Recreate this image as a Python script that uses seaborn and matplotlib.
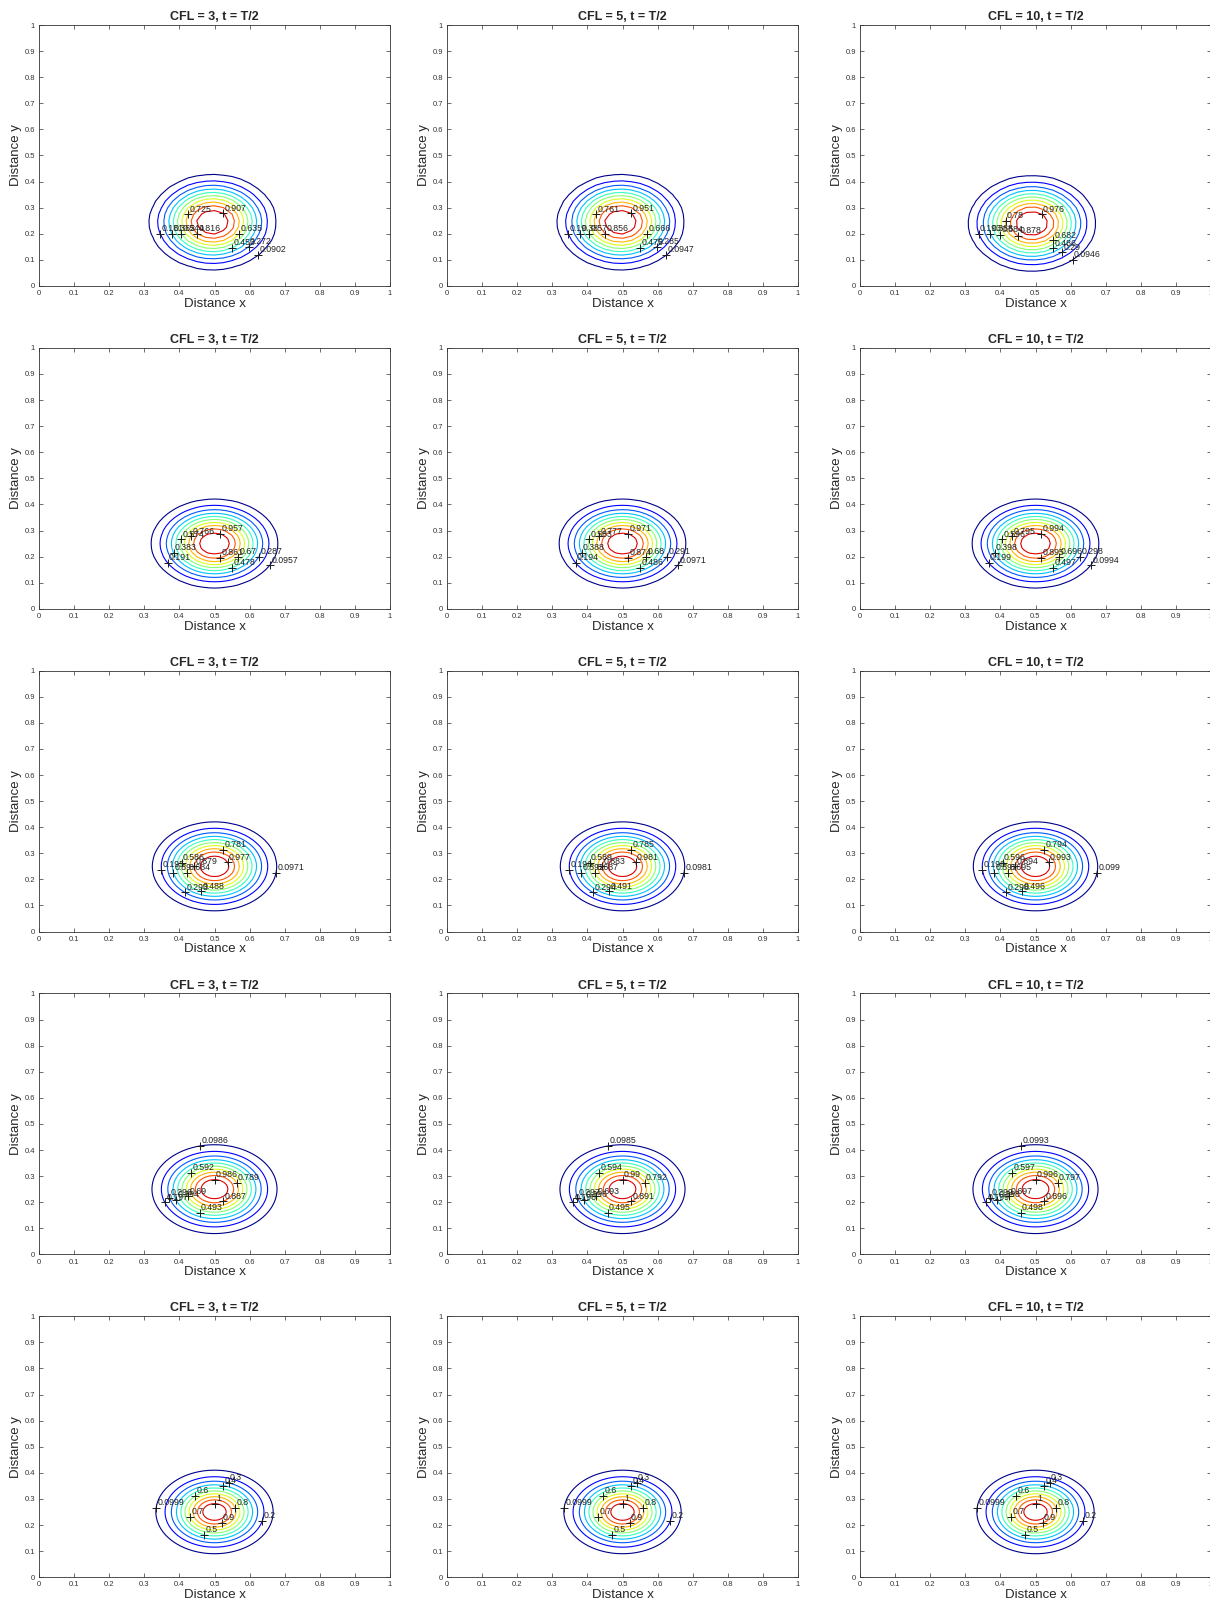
import numpy as np
import seaborn as sns
import matplotlib
import matplotlib.pyplot as plt

# Panel layout: rows are runs, columns are CFL numbers
cfl_values = [3, 5, 10]
title_time = "T/2"

# first and last contour level (10 levels per panel)
level_first = [
    [0.0902, 0.0947, 0.0946],
    [0.0957, 0.0971, 0.0994],
    [0.0971, 0.0981, 0.0990],
    [0.0986, 0.0985, 0.0993],
    [0.0999, 0.0999, 0.0999],
]
level_last = [
    [0.907, 0.951, 0.976],
    [0.957, 0.971, 0.994],
    [0.977, 0.981, 0.993],
    [0.986, 0.990, 0.996],
    [1.000, 1.000, 1.000],
]

# pulse centre per panel, outer ring half-widths and profile shape per row
centre_x = [[0.495, 0.495, 0.490], [0.5, 0.5, 0.5], [0.5, 0.5, 0.5], [0.5, 0.5, 0.5], [0.5, 0.5, 0.5]]
centre_y = [[0.245, 0.245, 0.240], [0.25, 0.25, 0.25], [0.25, 0.25, 0.25], [0.25, 0.25, 0.25], [0.25, 0.25, 0.25]]
outer_rx = [0.180, 0.180, 0.177, 0.178, 0.167]
outer_ry = [0.182, 0.170, 0.170, 0.170, 0.160]
profile_p = [2.35, 2.25, 2.2, 2.1, 2.0]
grid_n = [41, 61, 81, 121, 201]

# where the clabel "+" markers sit on each ring (degrees around the centre)
label_angles = [
    [-47, 195, -48, 200, -60, 210, -40, 165, 230, 60],
    [-25, 210, -20, 200, -65, 170, -40, 160, -80, 70],
    [-10, 183, 230, 195, 245, 175, 200, 70, 180, 20],
    [105, 200, 195, 200, 245, 135, 200, 20, -60, 90],
    [175, -15, 70, 75, 250, 130, 195, 15, -65, 90],
]

ticks = np.round(np.arange(0, 1.01, 0.1), 1)
tick_labels = ["0"] + [f"{t:g}" for t in ticks[1:-1]] + ["1"]

sns.set_theme(style="ticks")
plt.rcParams["font.family"] = ["Liberation Sans", "DejaVu Sans"]
plt.rcParams["axes.linewidth"] = 0.6

W, H = 1210, 1601
fig = plt.figure(figsize=(W / 100, H / 100), dpi=100)
fig.patch.set_facecolor("white")

col_left = [39, 447, 860]
ax_w, ax_h = 351, 261
row_top0, row_pitch = 25, 322.8

jet = matplotlib.colormaps["jet"]

for r in range(5):
    for c in range(3):
        top = row_top0 + r * row_pitch
        ax = fig.add_axes([col_left[c] / W, 1 - (top + ax_h) / H, ax_w / W, ax_h / H])

        n = grid_n[r]
        x = np.linspace(0, 1, n)
        X, Y = np.meshgrid(x, x)
        levels = np.linspace(level_first[r][c], level_last[r][c], 10)
        step = levels[1] - levels[0]
        zmin, zmax = levels[0] - step, levels[-1] + step
        cx, cy = centre_x[r][c], centre_y[r][c]

        # pulse shape scaled so the lowest level falls on the outer ring
        p = profile_p[r]
        rho_out = (2 * np.log(11)) ** (1 / p)
        rho = np.sqrt(((X - cx) / (outer_rx[r] / rho_out)) ** 2
                      + ((Y - cy) / (outer_ry[r] / rho_out)) ** 2)
        Z = zmin + (zmax - zmin) * np.exp(-0.5 * rho ** p)

        cs = ax.contour(X, Y, Z, levels=levels, cmap=jet,
                        vmin=levels[0] - 0.1 * step, vmax=levels[-1] + 0.8 * step,
                        linewidths=0.8)

        # MATLAB style labels: a "+" on the line and the value next to it
        for i, path in enumerate(cs.get_paths()):
            v = path.vertices
            if len(v) == 0:
                continue
            ang = np.degrees(np.arctan2(v[:, 1] - cy, v[:, 0] - cx))
            diff = np.abs((ang - label_angles[r][i] + 180) % 360 - 180)
            px, py = v[np.argmin(diff)]
            ax.plot(px, py, marker="+", color="k", ms=5.5, mew=0.7)
            ax.annotate(f"{levels[i]:.3g}", (px, py), xytext=(1.0, 0.5),
                        textcoords="offset points", fontsize=6.3,
                        ha="left", va="bottom", color="#222222")

        ax.set_xlim(0, 1)
        ax.set_ylim(0, 1)
        ax.set_xticks(ticks)
        ax.set_yticks(ticks)
        ax.set_xticklabels(tick_labels)
        ax.set_yticklabels(tick_labels)
        ax.tick_params(direction="in", top=True, right=True, length=3, width=0.5,
                       labelsize=5.5, pad=3, colors="#333333")
        for s in ax.spines.values():
            s.set_color("#333333")
        ax.set_xlabel("Distance x", fontsize=9.5, labelpad=0.5)
        ax.set_ylabel("Distance y", fontsize=9.5, labelpad=1.5)
        ax.set_title(f"CFL = {cfl_values[c]}, t = {title_time}", fontsize=9,
                     fontweight="bold", pad=3.5)

fig.savefig("out.png", dpi=100, facecolor="white")
